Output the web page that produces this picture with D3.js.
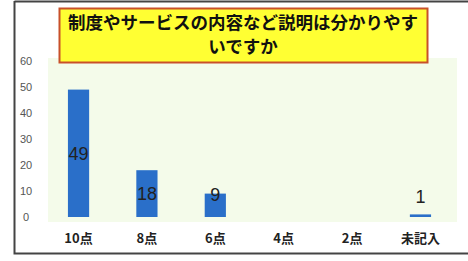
<!DOCTYPE html>
<html><head><meta charset="utf-8">
<script src="https://cdn.jsdelivr.net/npm/d3@7"></script>
<style>html,body{margin:0;padding:0;background:#fff;}svg{display:block;}</style>
</head><body>
<svg id="c" width="468" height="261"></svg>
<script>
const categories = ["10点","8点","6点","4点","2点","未記入"];
const values = [49,18,9,0,0,1];
const yTicks = [0,10,20,30,40,50,60];
const titleLines = ["制度やサービスの内容など説明は分かりやす","いですか"];

const data = categories.map((c,i)=>({c, v: values[i]}));
const svg = d3.select("#c");
// outer frame
svg.append("path").attr("d","M14.5,1.5 H468 M14.5,1 V253.5 H468")
  .attr("fill","none").attr("stroke","#444").attr("stroke-width",2);

// plot area
svg.append("rect").attr("x",48).attr("y",58).attr("width",409).attr("height",164).attr("fill","#f4fbea");

const x = d3.scaleBand().domain(categories).range([44,455]).paddingInner(0.69).paddingOuter(0.35);
const y = d3.scaleLinear().domain([0,60]).range([217,61]);

svg.selectAll(".bar").data(data).join("rect")
  .attr("x",d=>x(d.c)).attr("width",x.bandwidth())
  .attr("y",d=>y(d.v)).attr("height",d=>Math.max(0,y(0)-y(d.v)))
  .attr("fill","#2a6fc9");

// y axis labels
const ya = svg.append("g").attr("transform","translate(28,0)")
  .call(d3.axisLeft(y).tickValues(yTicks).tickSize(0).tickPadding(0));
ya.select(".domain").remove();
ya.selectAll("text").attr("text-anchor","middle").attr("x",-2).attr("font-family","Liberation Sans, Arial, sans-serif").attr("font-size",11).attr("fill","#555");

// x axis labels
const xa = svg.append("g").attr("transform","translate(0,234)")
  .call(d3.axisBottom(x).tickSize(0).tickPadding(0));
xa.select(".domain").remove();
xa.selectAll("text").attr("font-family","Noto Sans CJK JP, sans-serif").attr("font-weight","bold").attr("font-size",13).attr("fill","#222");

// value labels
svg.selectAll(".val").data(data.filter(d=>d.v>0)).join("text")
  .attr("x",d=>x(d.c)+x.bandwidth()/2)
  .attr("y",d=> d.v<5 ? y(d.v)-18 : Math.min((y(d.v)+y(0))/2, y(0)-22))
  .attr("dy","0.35em").attr("text-anchor","middle")
  .attr("font-family","Liberation Sans, Arial, sans-serif").attr("font-size",18)
  .attr("fill","#222").text(d=>d.v);

// title box
svg.append("rect").attr("x",59.5).attr("y",8.5).attr("width",368).attr("height",54)
  .attr("fill","#ffff33").attr("stroke","#c8502a").attr("stroke-width",2);
svg.selectAll(".t").data(titleLines).join("text")
  .attr("x",243).attr("y",(d,i)=>23+i*24).attr("dy","0.35em").attr("text-anchor","middle")
  .attr("font-family","Noto Sans CJK JP, sans-serif").attr("font-weight","bold").attr("font-size",17.5)
  .attr("fill","#111").text(d=>d);
</script>
</body></html>
